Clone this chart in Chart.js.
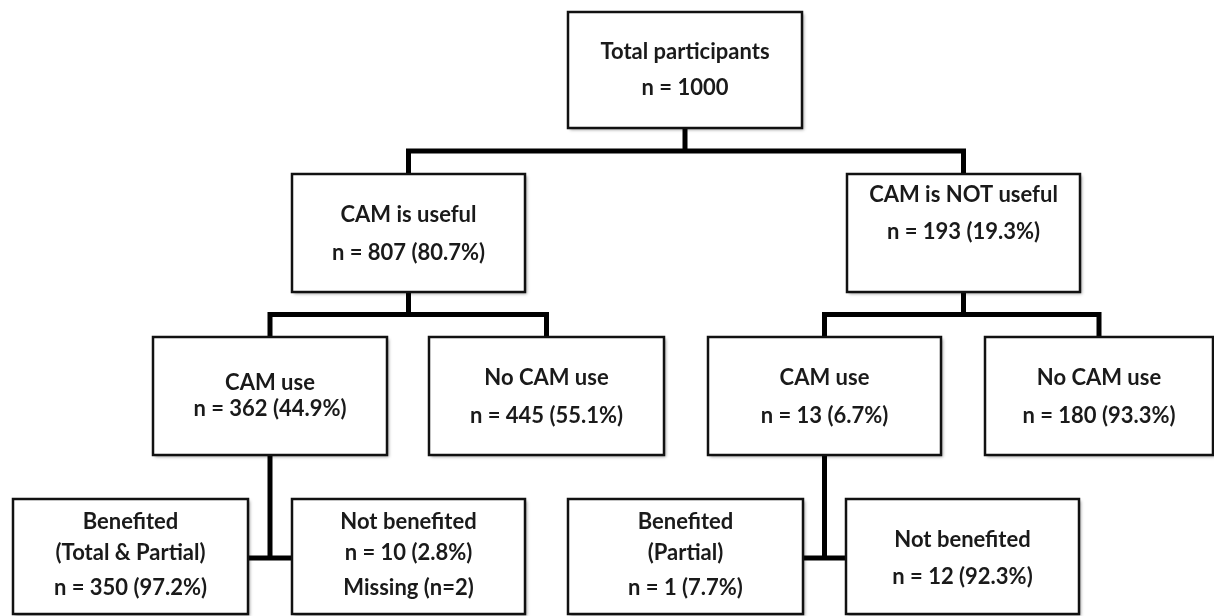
<!DOCTYPE html>
<html>
<head>
<meta charset="utf-8">
<script src="https://cdn.jsdelivr.net/npm/chart.js@4/dist/chart.umd.min.js"></script>
<style>
  html, body { margin: 0; padding: 0; background: #fff; }
  #flow { display: block; }
</style>
</head>
<body>
<canvas id="flow" width="1214" height="616"></canvas>
<script>
// node content
var nodeTitles = ['Total participants', 'CAM is useful', 'CAM is NOT useful',
  'CAM use', 'No CAM use', 'CAM use', 'No CAM use',
  'Benefited', 'Not benefited', 'Benefited', 'Not benefited'];
var nodeSubtitles = [null, null, null, null, null, null, null,
  '(Total & Partial)', null, '(Partial)', null];
var nodeCounts = [1000, 807, 193, 362, 445, 13, 180, 350, 10, 1, 12];
var nodePercents = [null, 80.7, 19.3, 44.9, 55.1, 6.7, 93.3, 97.2, 2.8, 7.7, 92.3];
var nodeNotes = [null, null, null, null, null, null, null, null, 'Missing (n=2)', null, null];
var nodeParents = [-1, 0, 0, 1, 1, 2, 2, 3, 3, 5, 5];

// layout, in chart units (x 0..1214, y 0..616 top-down)
var boxLayout = [
  { l: 568, t: 12,  r: 802,  b: 128, lines: [52, 88] },
  { l: 292, t: 174, r: 525,  b: 292, lines: [215, 253] },
  { l: 847, t: 174, r: 1080, b: 292, lines: [195, 232] },
  { l: 153, t: 337, r: 387,  b: 455, lines: [383, 409] },
  { l: 429, t: 337, r: 664,  b: 455, lines: [378, 416] },
  { l: 708, t: 337, r: 941,  b: 455, lines: [378, 416] },
  { l: 985, t: 337, r: 1213, b: 455, lines: [378, 416] },
  { l: 13,  t: 499, r: 248,  b: 614, lines: [522, 553, 588] },
  { l: 292, t: 499, r: 525,  b: 614, lines: [522, 553, 588] },
  { l: 568, t: 499, r: 803,  b: 614, lines: [522, 553, 588] },
  { l: 846, t: 499, r: 1079, b: 614, lines: [540, 577] }
];
var sideBySide = [false, false, false, true, false, true, false, false, false, false, false];

function nodeText(i) {
  var out = [nodeTitles[i]];
  if (nodeSubtitles[i]) out.push(nodeSubtitles[i]);
  var s = 'n = ' + nodeCounts[i];
  if (nodePercents[i] !== null) s += ' (' + nodePercents[i].toFixed(1) + '%)';
  out.push(s);
  if (nodeNotes[i]) out.push(nodeNotes[i]);
  return out;
}

function cx(b) { return (b.l + b.r) / 2; }

// build connector datasets from the tree
function connectorData() {
  var pts = [];
  var kids = {};
  nodeParents.forEach(function(p, i) {
    if (p < 0) return;
    (kids[p] = kids[p] || []).push(i);
  });
  Object.keys(kids).forEach(function(k) {
    var p = boxLayout[k];
    var c = kids[k].map(function(i) { return boxLayout[i]; });
    var px = cx(p);
    if (sideBySide[k]) {
      var my = 558;
      pts.push({ x: px, y: p.b }, { x: px, y: my }, { x: NaN, y: NaN });
      pts.push({ x: c[0].r, y: my }, { x: c[1].l, y: my }, { x: NaN, y: NaN });
    } else {
      var my2 = (p.b + c[0].t) / 2;
      pts.push({ x: px, y: p.b }, { x: px, y: my2 }, { x: NaN, y: NaN });
      pts.push({ x: cx(c[0]), y: c[0].t }, { x: cx(c[0]), y: my2 },
               { x: cx(c[1]), y: my2 }, { x: cx(c[1]), y: c[1].t }, { x: NaN, y: NaN });
    }
  });
  return pts;
}

var boxPlugin = {
  id: 'boxes',
  afterDatasetsDraw: function(chart) {
    var ctx = chart.ctx;
    var xs = chart.scales.x, ys = chart.scales.y;
    boxLayout.forEach(function(b, i) {
      var x0 = xs.getPixelForValue(b.l), x1 = xs.getPixelForValue(b.r);
      var y0 = ys.getPixelForValue(b.t), y1 = ys.getPixelForValue(b.b);
      ctx.save();
      ctx.shadowColor = 'rgba(0,0,0,0.35)';
      ctx.shadowBlur = 3;
      ctx.shadowOffsetX = 2;
      ctx.shadowOffsetY = 2;
      ctx.fillStyle = '#fff';
      ctx.fillRect(x0, y0, x1 - x0, y1 - y0);
      ctx.shadowColor = 'transparent';
      ctx.lineWidth = 2.5;
      ctx.strokeStyle = '#111';
      ctx.strokeRect(x0, y0, x1 - x0, y1 - y0);
      ctx.fillStyle = '#1a1a1a';
      ctx.font = 'bold 22px Lato, "Open Sans", sans-serif';
      ctx.textAlign = 'center';
      ctx.textBaseline = 'middle';
      nodeText(i).forEach(function(t, j) {
        ctx.fillText(t, xs.getPixelForValue(cx(b)), ys.getPixelForValue(b.lines[j]));
      });
      ctx.restore();
    });
  }
};

new Chart(document.getElementById('flow'), {
  type: 'scatter',
  data: {
    datasets: [{
      data: connectorData(),
      showLine: true,
      spanGaps: false,
      borderColor: '#000',
      borderWidth: 5,
      borderJoinStyle: 'miter',
      pointRadius: 0
    }]
  },
  options: {
    responsive: false,
    animation: false,
    layout: { padding: 0 },
    plugins: { legend: { display: false }, tooltip: { enabled: false } },
    scales: {
      x: { type: 'linear', min: 0, max: 1214, display: false },
      y: { type: 'linear', min: 0, max: 616, reverse: true, display: false }
    }
  },
  plugins: [boxPlugin]
});
</script>
</body>
</html>
